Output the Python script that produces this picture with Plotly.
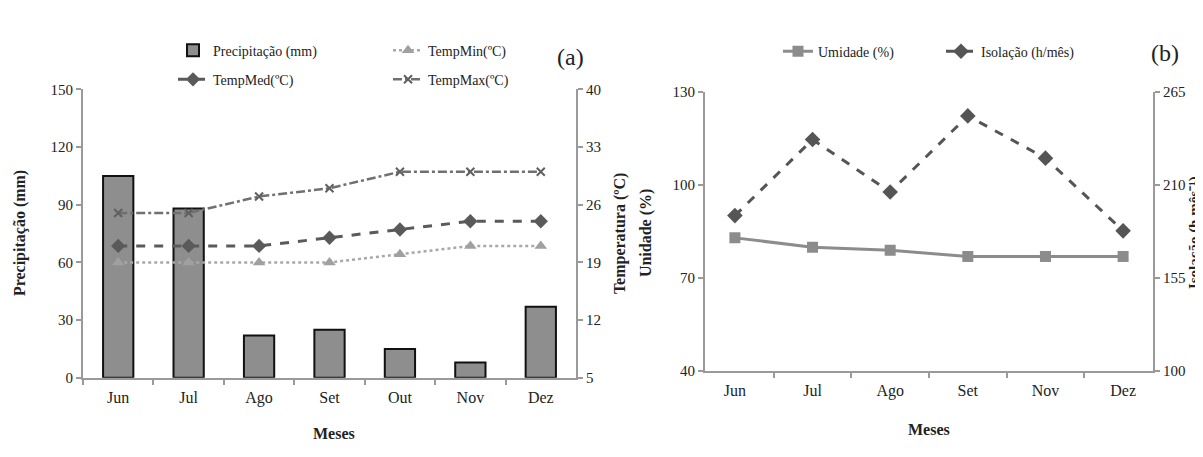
import plotly.graph_objects as go

months_a = ["Jun", "Jul", "Ago", "Set", "Out", "Nov", "Dez"]
precip = [105, 88, 22, 25, 15, 8, 37]
temp_min = [19, 19, 19, 19, 20, 21, 21]
temp_med = [21, 21, 21, 22, 23, 24, 24]
temp_max = [25, 25, 27, 28, 30, 30, 30]

months_b = ["Jun", "Jul", "Ago", "Set", "Nov", "Dez"]
umidade = [83, 80, 79, 77, 77, 77]
insolacao = [192, 237, 206, 251, 226, 183]

W, H = 1203, 457
def px(x):
    return x / W
def py(y):
    return 1 - y / H

SERIF = "Liberation Serif, Times New Roman, serif"
TXT = "#222222"
AX = "#9a9a9a"

fig = go.Figure()

fig.add_trace(go.Bar(x=months_a, y=precip, name="Precipitação (mm)",
                     marker=dict(color="#8e8e8e", line=dict(color="#111111", width=2)),
                     xaxis="x", yaxis="y", legend="legend"))
fig.add_trace(go.Scatter(x=months_a, y=temp_min, name="TempMin(ºC)", mode="lines+markers",
                         line=dict(color="#a8a8a8", width=2.5, dash="dot"),
                         marker=dict(symbol="triangle-up", size=11, color="#a0a0a0"),
                         xaxis="x", yaxis="y2", legend="legend"))
fig.add_trace(go.Scatter(x=months_a, y=temp_med, name="TempMed(ºC)", mode="lines+markers",
                         line=dict(color="#5a5a5a", width=3, dash="dash"),
                         marker=dict(symbol="diamond", size=11, color="#5a5a5a"),
                         xaxis="x", yaxis="y2", legend="legend2"))
fig.add_trace(go.Scatter(x=months_a, y=temp_max, name="TempMax(ºC)", mode="lines+markers",
                         line=dict(color="#707070", width=2.5, dash="dashdot"),
                         marker=dict(symbol="x-thin", size=8, color="#606060",
                                     line=dict(color="#606060", width=2)),
                         xaxis="x", yaxis="y2", legend="legend2"))

fig.add_trace(go.Scatter(x=months_b, y=umidade, name="Umidade (%)", mode="lines+markers",
                         line=dict(color="#8c8c8c", width=3),
                         marker=dict(symbol="square", size=11, color="#8c8c8c"),
                         xaxis="x2", yaxis="y3", legend="legend3"))
fig.add_trace(go.Scatter(x=months_b, y=insolacao, name="Isolação (h/mês)", mode="lines+markers",
                         line=dict(color="#555555", width=3, dash="dash"),
                         marker=dict(symbol="diamond", size=12, color="#555555"),
                         xaxis="x2", yaxis="y4", legend="legend3"))

tickfont = dict(family=SERIF, size=15, color=TXT)
common_y = dict(showgrid=False, zeroline=False, showline=True, linecolor=AX, linewidth=2,
                ticks="outside", ticklen=5, tickcolor=AX, tickwidth=1.5, tickfont=tickfont)
common_x = dict(type="category", showgrid=False, zeroline=False, showline=True, linecolor=AX,
                linewidth=2, ticks="outside", tickson="boundaries", ticklen=5, tickcolor=AX,
                tickwidth=1.5, tickfont=dict(family=SERIF, size=16, color=TXT),
                ticklabelstandoff=4)

leg_font = dict(family=SERIF, size=14, color=TXT)

fig.update_layout(
    width=W, height=H,
    margin=dict(l=0, r=0, t=0, b=0),
    paper_bgcolor="white", plot_bgcolor="white",
    bargap=0.57,
    xaxis=dict(domain=[px(75), px(568)], anchor="y", **common_x),
    yaxis=dict(domain=[py(375), py(76)], range=[0, 150], tick0=0, dtick=30, anchor="x", **common_y),
    yaxis2=dict(overlaying="y", side="right", range=[5, 40], tick0=5, dtick=7, anchor="x", **common_y),
    xaxis2=dict(domain=[px(697), px(1145)], anchor="y3", **common_x),
    yaxis3=dict(domain=[py(368), py(79)], range=[40, 130], tick0=40, dtick=30, anchor="x2", **common_y),
    yaxis4=dict(overlaying="y3", side="right", range=[100, 265], tick0=100, dtick=55, anchor="x2",
                **common_y),
    legend=dict(orientation="h", x=px(165), y=py(36), xanchor="left", yanchor="middle",
                entrywidth=170, entrywidthmode="pixels", font=leg_font, bgcolor="rgba(0,0,0,0)"),
    legend2=dict(orientation="h", x=px(165), y=py(66), xanchor="left", yanchor="middle",
                 entrywidth=170, entrywidthmode="pixels", font=leg_font, bgcolor="rgba(0,0,0,0)"),
    legend3=dict(orientation="h", x=px(770), y=py(37), xanchor="left", yanchor="middle",
                 entrywidth=118, entrywidthmode="pixels", font=leg_font, bgcolor="rgba(0,0,0,0)"),
)

ann = [
    dict(text="(a)", x=px(562), y=py(42), font=dict(family=SERIF, size=24, color=TXT)),
    dict(text="(b)", x=px(1157), y=py(38), font=dict(family=SERIF, size=24, color=TXT)),
    dict(text="<b>Precipitação (mm)</b>", x=px(12), y=py(225), textangle=-90,
         font=dict(family=SERIF, size=16, color=TXT)),
    dict(text="<b>Temperatura (ºC)</b>", x=px(612), y=py(225), textangle=-90,
         font=dict(family=SERIF, size=16, color=TXT)),
    dict(text="<b>Unidade (%)</b>", x=px(638), y=py(225), textangle=-90,
         font=dict(family=SERIF, size=16, color=TXT)),
    dict(text="<b>Isolação (h mês⁻¹)</b>", x=px(1186), y=py(225), textangle=-90,
         font=dict(family=SERIF, size=15, color=TXT)),
    dict(text="<b>Meses</b>", x=px(326), y=py(433), font=dict(family=SERIF, size=16, color=TXT)),
    dict(text="<b>Meses</b>", x=px(921), y=py(428), font=dict(family=SERIF, size=16, color=TXT)),
]
for a in ann:
    a.update(xref="paper", yref="paper", showarrow=False, xanchor="center", yanchor="middle")
fig.update_layout(annotations=ann)

fig.write_html("out.html")
